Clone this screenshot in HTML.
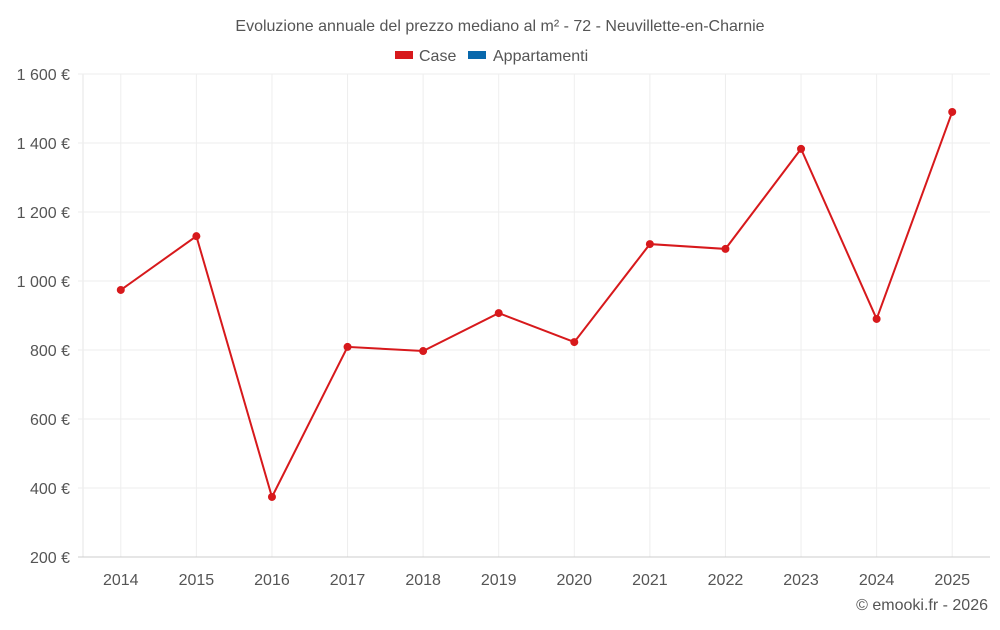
<!DOCTYPE html>
<html><head><meta charset="utf-8"><style>
body{margin:0;background:#fff;font-family:"Liberation Sans",sans-serif;}
svg text{font-family:"Liberation Sans",sans-serif;}
</style></head><body>
<svg id="c" width="1000" height="625">
<text x="500" y="31" text-anchor="middle" font-size="16" fill="#555">Evoluzione annuale del prezzo mediano al m² - 72 - Neuvillette-en-Charnie</text>
<g><rect x="395" y="51" width="18" height="8" fill="#d7191c"/><text x="419" y="61" font-size="16" fill="#555">Case</text></g>
<g><rect x="468" y="51" width="18" height="8" fill="#0868ac"/><text x="493" y="61" font-size="16" fill="#555">Appartamenti</text></g>
<g id="grid"></g><g id="series"></g>
<text x="988" y="610" text-anchor="end" font-size="16" fill="#555">© emooki.fr - 2026</text>
</svg>
<script>
const years=["2014","2015","2016","2017","2018","2019","2020","2021","2022","2023","2024","2025"];
const caseValues=[974,1130,374,809,797,907,823,1107,1093,1383,890,1490];
const yTicks=[200,400,600,800,1000,1200,1400,1600];
const L=83,R=990,T=74,B=557,ymin=200,ymax=1600;
const ns="http://www.w3.org/2000/svg";
const bw=(R-L)/years.length;
const x=i=>L+bw*(i+0.5);
const y=v=>B-(v-ymin)/(ymax-ymin)*(B-T);
function mk(t,a,p){const e=document.createElementNS(ns,t);for(const k in a)e.setAttribute(k,a[k]);p.appendChild(e);return e;}
const g=document.getElementById('grid'),s=document.getElementById('series');
years.forEach((yr,i)=>{
 const l=mk('line',{x1:x(i),x2:x(i),y1:T,y2:B,stroke:'#eee'},g);
 
 
 const t=mk('text',{x:x(i),y:585,'text-anchor':'middle','font-size':16,fill:'#555'},g);
 t.textContent=yr;
 
 
});
const ax=mk('line',{x1:L,x2:L,y1:T,y2:B,stroke:'#e6e6e6'},g);


yTicks.forEach(v=>{
 const l=mk('line',{x1:L-5,x2:R,y1:y(v),y2:y(v),stroke:v===ymin?'#ccc':'#eee'},g);
 
 
 const t=mk('text',{x:70,y:y(v)+6,'text-anchor':'end','font-size':16,fill:'#555'},g);
 t.textContent=(v>=1000?Math.floor(v/1000)+' '+String(v%1000).padStart(3,'0'):v)+' €';
 
 
});
const pl=mk('polyline',{points:caseValues.map((v,i)=>x(i)+','+y(v)).join(' '),fill:'none',stroke:'#d7191c','stroke-width':2},s);


caseValues.forEach((v,i)=>{
 const c=mk('circle',{cx:x(i),cy:y(v),r:4,fill:'#d7191c'},s);
 
 
});
</script>
</body></html>
